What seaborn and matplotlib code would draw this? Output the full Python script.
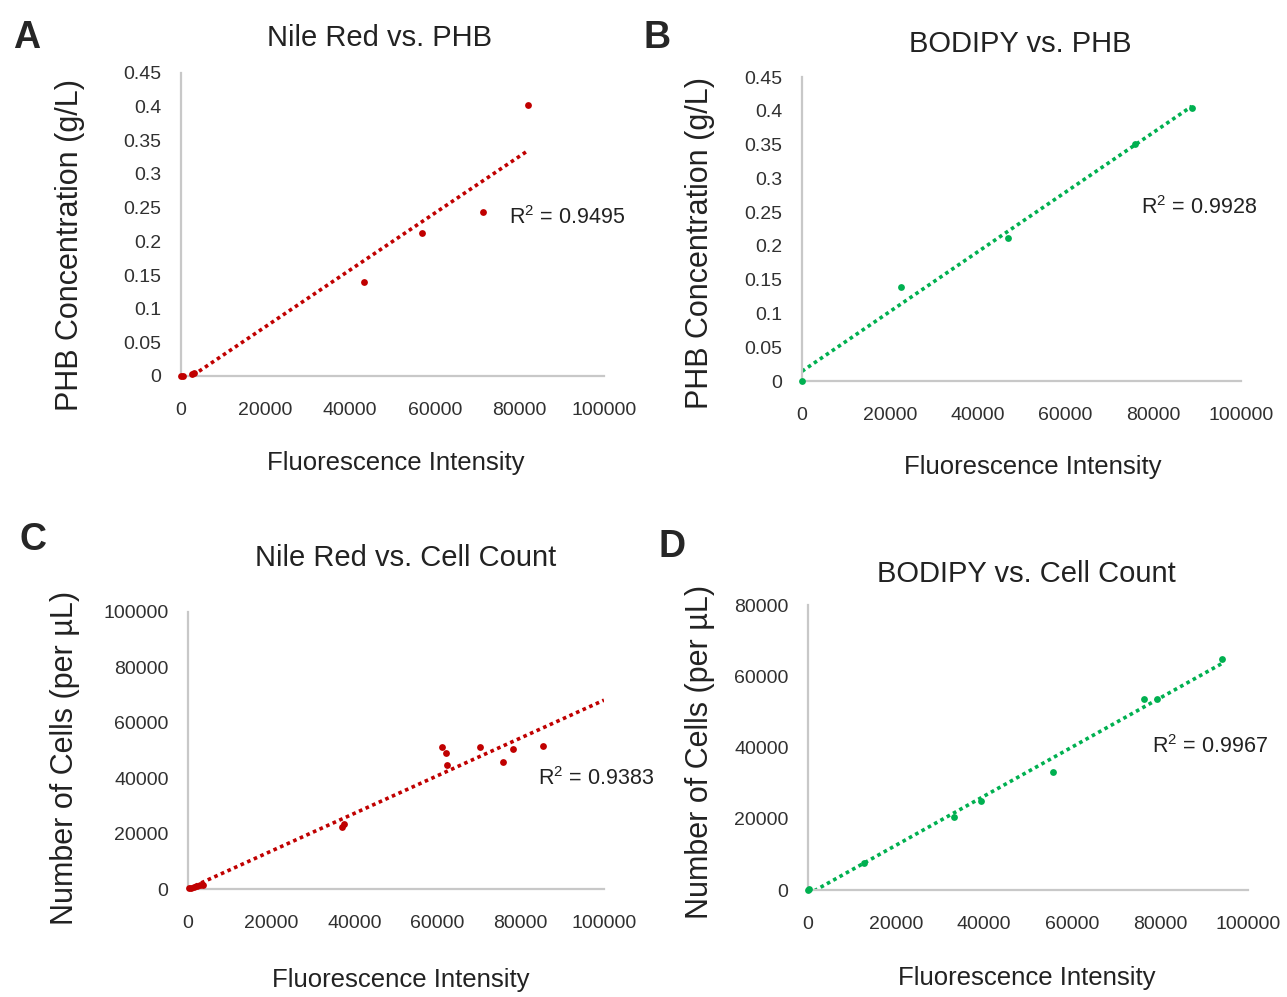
import numpy as np
import pandas as pd
import matplotlib
matplotlib.use("Agg")
import matplotlib.pyplot as plt
import seaborn as sns

# panel A: Nile Red vs PHB
nr_phb_x = [0, 500, 2500, 3000, 43300, 57000, 71400, 82000]
nr_phb_y = [0, 0, 0.003, 0.005, 0.14, 0.212, 0.244, 0.403]

# panel B: BODIPY vs PHB
bd_phb_x = [0, 22550, 46900, 75850, 88800]
bd_phb_y = [0, 0.139, 0.212, 0.351, 0.404]

# panel C: Nile Red vs cell count
nr_cell_x = [300, 800, 1500, 2200, 2800, 3500, 37000, 37500,
             61000, 62000, 62300, 70200, 75700, 78100, 85300]
nr_cell_y = [200, 500, 800, 1100, 1400, 1600, 22500, 23500,
             51300, 49100, 44800, 51300, 45900, 50500, 51600]

# panel D: BODIPY vs cell count
bd_cell_x = [0, 300, 12700, 33200, 39300, 55700, 76400, 79300, 94100]
bd_cell_y = [0, 200, 7600, 20500, 25000, 33100, 53600, 53600, 64800]

x_ticks = [0, 20000, 40000, 60000, 80000, 100000]
phb_ticks = [0, 0.05, 0.1, 0.15, 0.2, 0.25, 0.3, 0.35, 0.4, 0.45]
phb_labels = ["0", "0.05", "0.1", "0.15", "0.2", "0.25", "0.3", "0.35", "0.4", "0.45"]
cell_ticks_c = [0, 20000, 40000, 60000, 80000, 100000]
cell_ticks_d = [0, 20000, 40000, 60000, 80000]

titles = ["Nile Red vs. PHB", "BODIPY vs. PHB", "Nile Red vs. Cell Count", "BODIPY vs. Cell Count"]
r2_texts = ["R$^2$ = 0.9495", "R$^2$ = 0.9928", "R$^2$ = 0.9383", "R$^2$ = 0.9967"]

RED = "#c00000"
GREEN = "#00b050"

sns.set_style("white")
plt.rcParams["font.family"] = ["Liberation Sans", "DejaVu Sans"]
plt.rcParams["mathtext.fontset"] = "custom"
plt.rcParams["mathtext.rm"] = "Liberation Sans"

fig = plt.figure(figsize=(12.87, 9.97), dpi=100)
W, H = 1287.0, 997.0


def make_ax(left, right, bottom_px, top_px):
    return fig.add_axes([left / W, 1 - bottom_px / H, (right - left) / W, (bottom_px - top_px) / H])


def panel(ax, xs, ys, color, yticks, ylabels, truncate=True):
    ax.set_xlim(0, 100000)
    ax.set_ylim(0, yticks[-1])
    df = pd.DataFrame({"x": xs, "y": ys})
    sns.regplot(data=df, x="x", y="y", ax=ax, ci=None, truncate=truncate, color=color,
                scatter_kws={"s": 24, "linewidths": 0, "clip_on": False, "zorder": 3, "alpha": 1},
                line_kws={"linestyle": (0, (1, 1)), "linewidth": 2.6})
    ax.set_xlim(0, 100000)
    ax.set_ylim(0, yticks[-1])
    ax.set_xticks(x_ticks)
    ax.set_xticklabels([str(t) for t in x_ticks])
    ax.set_yticks(yticks)
    ax.set_yticklabels(ylabels)
    ax.tick_params(length=0, labelsize=14, colors="#303030")
    ax.tick_params(axis="y", pad=14)
    ax.tick_params(axis="x", pad=19)
    for s in ["top", "right"]:
        ax.spines[s].set_visible(False)
    for s in ["left", "bottom"]:
        ax.spines[s].set_color("#c8c8c8")
        ax.spines[s].set_linewidth(1.6)
    ax.set_xlabel("")
    ax.set_ylabel("")


axA = make_ax(181, 604, 376, 73)
panel(axA, nr_phb_x, nr_phb_y, RED, phb_ticks, phb_labels)
axB = make_ax(802, 1241, 381, 77)
panel(axB, bd_phb_x, bd_phb_y, GREEN, phb_ticks, phb_labels)
axC = make_ax(188, 604, 889, 612)
panel(axC, nr_cell_x, nr_cell_y, RED, cell_ticks_c, [str(t) for t in cell_ticks_c], truncate=False)
axD = make_ax(808, 1248, 890, 605)
panel(axD, bd_cell_x, bd_cell_y, GREEN, cell_ticks_d, [str(t) for t in cell_ticks_d])


def ftext(x, y, s, **kw):
    fig.text(x / W, 1 - y / H, s, **kw)


# panel letters
for (x, y, s) in [(27, 38, "A"), (657, 38, "B"), (33, 540, "C"), (672, 547, "D")]:
    ftext(x, y, s, fontsize=27, fontweight="bold", ha="center", va="center")

# titles
for (x, y, s) in [(380, 38, titles[0]), (1020, 44, titles[1]), (406, 558, titles[2]), (1026, 574, titles[3])]:
    ftext(x, y, s, fontsize=21, ha="center", va="center", color="#222222")

# x labels
for (x, y) in [(396, 463), (1033, 467), (401, 980), (1027, 978)]:
    ftext(x, y, "Fluorescence Intensity", fontsize=18.5, ha="center", va="center", color="#222222")

# y labels
for (x, y, s) in [(70, 245, "PHB Concentration (g/L)"), (700, 243, "PHB Concentration (g/L)"),
                  (65, 758, "Number of Cells (per µL)"), (700, 752, "Number of Cells (per µL)")]:
    ftext(x, y, s, fontsize=22, ha="center", va="center", rotation=90, color="#222222")

# R squared annotations
for (x, y, s) in [(509, 218, r2_texts[0]), (1141, 208, r2_texts[1]), (538, 779, r2_texts[2]), (1152, 747, r2_texts[3])]:
    ftext(x, y, s, fontsize=15.5, ha="left", va="center", color="#222222")

fig.savefig("out.png", dpi=100)
